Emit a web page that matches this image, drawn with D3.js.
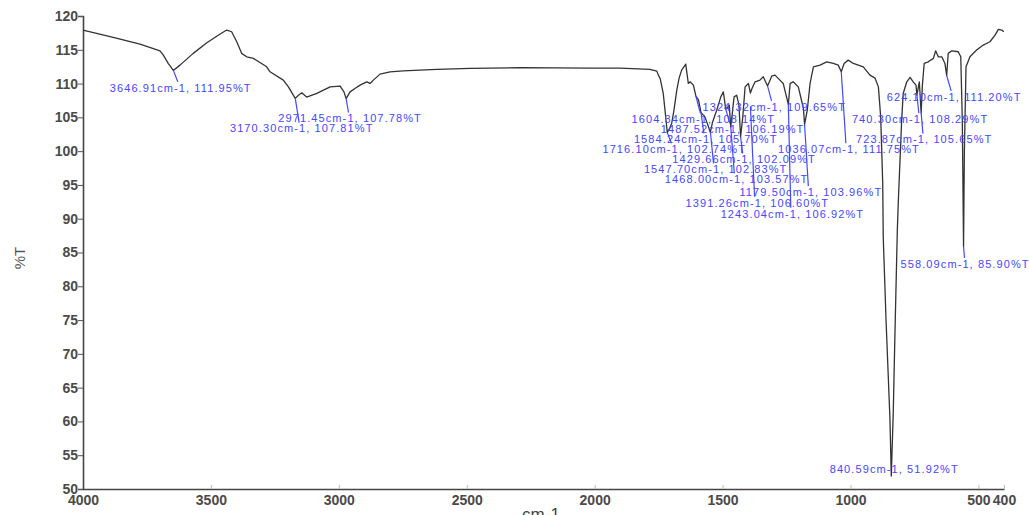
<html>
<head>
<style>
  body { margin: 0; background: #fff; }
  text { font-family: "Liberation Sans", Arial, sans-serif; }
</style>
</head>
<body>
<svg id="chart" width="1029" height="515"></svg>
<script src="https://cdn.jsdelivr.net/npm/d3@7"></script>
<script>
// spectrum (cm-1, %T)
let waveNumbers = [4000, 3882, 3777, 3699, 3686, 3667, 3646.91, 3621, 3569, 3516, 3464, 3438, 3419, 3399, 3380, 3360, 3334, 3282, 3269, 3217, 3197, 3178, 3170.30, 3158, 3145, 3126, 3086, 3034, 2995, 2980, 2971.45, 2956, 2937, 2917, 2891, 2878, 2865, 2839, 2800, 2749, 2683, 2617, 2487, 2292, 2018, 1901, 1784, 1757, 1751, 1744, 1732, 1721, 1716.10, 1707, 1699, 1690, 1679, 1670, 1660, 1644, 1634, 1627, 1614, 1604.34, 1594, 1584.24, 1569, 1547.70, 1539, 1523, 1507, 1497, 1487.52, 1474, 1468.00, 1455, 1445, 1436, 1429.66, 1421, 1412, 1399, 1391.26, 1385, 1373, 1354, 1341, 1324.32, 1308, 1295, 1276, 1263, 1243.04, 1236, 1224, 1204, 1184, 1179.50, 1169, 1158, 1145, 1119, 1093, 1067, 1048, 1036.07, 1025, 1009, 989, 950, 924, 904, 891, 882, 874, 872, 861, 846, 840.59, 833, 826, 817, 813, 800, 794, 780, 767, 755, 744, 740.30, 731, 723.87, 719, 712, 696, 676, 667, 657, 643, 631, 624.10, 618, 604, 579, 569, 563, 558.09, 555, 548.5, 533, 507, 481, 455, 435, 422, 409, 401]
let transmittance = [117.92, 116.84, 115.85, 114.85, 114.22, 112.99, 111.95, 112.73, 114.47, 116.04, 117.33, 117.92, 117.67, 116.19, 114.47, 113.96, 113.73, 112.48, 111.74, 110.51, 109.51, 108.28, 107.81, 108.28, 108.63, 108.0, 108.54, 109.51, 109.62, 108.77, 107.78, 108.77, 109.28, 109.77, 110.26, 110.02, 110.51, 111.40, 111.74, 111.89, 111.99, 112.10, 112.24, 112.36, 112.29, 112.29, 112.10, 111.84, 111.25, 110.76, 108.54, 104.58, 102.74, 103.39, 104.09, 106.06, 109.03, 110.81, 111.99, 112.88, 110.02, 110.26, 109.77, 108.14, 107.54, 105.70, 105.07, 102.83, 104.32, 106.06, 108.03, 108.77, 106.19, 106.80, 103.57, 108.03, 108.28, 106.80, 102.09, 105.07, 109.51, 110.02, 108.60, 109.28, 110.26, 110.51, 111.00, 109.65, 111.10, 111.25, 110.51, 110.02, 106.92, 110.02, 110.26, 109.51, 106.31, 103.96, 106.06, 110.02, 112.48, 112.73, 113.22, 112.98, 112.73, 111.75, 112.98, 113.47, 112.98, 112.48, 111.25, 110.80, 109.51, 105.07, 95.19, 87.27, 74.91, 60.57, 51.92, 61.12, 73.43, 88.26, 92.71, 104.58, 108.54, 110.26, 110.91, 110.26, 109.77, 108.29, 110.26, 105.65, 109.77, 112.98, 113.22, 113.73, 114.85, 113.96, 113.96, 112.98, 111.20, 114.47, 114.85, 114.71, 113.96, 104.58, 85.90, 99.64, 112.48, 113.96, 114.96, 115.70, 116.19, 117.18, 118.03, 117.92, 117.67]

// picked peaks and where their labels sit (label centre, in axis units)
let peakWn = [3646.91, 3170.30, 2971.45, 1716.10, 1604.34, 1584.24, 1547.70, 1487.52, 1468.00, 1429.66, 1391.26, 1324.32, 1243.04, 1179.50, 1036.07, 840.59, 740.30, 723.87, 624.10, 558.09]
let peakT = [111.95, 107.81, 107.78, 102.74, 108.14, 105.70, 102.83, 106.19, 103.57, 102.09, 106.60, 109.65, 106.92, 103.96, 111.75, 51.92, 108.29, 105.65, 111.20, 85.90]
let labelWn = [3618, 3145, 2956, 1689, 1575, 1566, 1527, 1461, 1445, 1416, 1364, 1298, 1227, 1155, 1006, 829, 728, 712, 595, 552]
let labelT = [109.37, 103.34, 104.83, 100.27, 104.72, 101.76, 97.31, 103.24, 95.83, 98.79, 92.37, 106.55, 90.74, 93.94, 100.27, 53.01, 104.72, 101.71, 108.03, 83.32]

let xTicks = [4000, 3500, 3000, 2500, 2000, 1500, 1000, 500, 400]
let yTicks = [50, 55, 60, 65, 70, 75, 80, 85, 90, 95, 100, 105, 110, 115, 120]

let svg = d3.select("#chart")

let x = d3.scaleLinear().domain([4000, 400]).range([83, 1004])
let y = d3.scaleLinear().domain([50, 120]).range([489, 16])

let spectrum = waveNumbers.map((w, i) => [w, transmittance[i]])
let peaks = peakWn.map((w, i) => ({ wn: w, t: peakT[i], lx: labelWn[i], ly: labelT[i] }))

// axes
let xAxis = d3.axisBottom(x).tickValues(xTicks).tickFormat(d3.format("d"))
  .tickSizeInner(-4).tickSizeOuter(0).tickPadding(6)
let yAxis = d3.axisLeft(y).tickValues(yTicks).tickSize(5).tickPadding(0)

let gx = svg.append("g").attr("transform", "translate(0,489)").call(xAxis)
let gy = svg.append("g").attr("transform", "translate(83,0)").call(yAxis)

gx.select(".domain").attr("stroke", "#444").attr("stroke-width", 1.6)
gy.select(".domain").attr("stroke", "#444").attr("stroke-width", 1.6)
gx.selectAll(".tick line").attr("stroke", "#bbb")
gy.selectAll(".tick line").attr("stroke", "#555")
svg.selectAll(".tick text")
  .attr("font-size", 14)
  .attr("font-family", "Liberation Sans, Arial, sans-serif")
  .attr("font-weight", "bold")
  .attr("fill", "#4a4a4a")

svg.append("text")
  .attr("transform", "translate(25,258) rotate(-90)")
  .attr("text-anchor", "middle")
  .attr("font-size", 15)
  .attr("fill", "#555")
  .text("%T")

svg.append("text")
  .attr("x", 541)
  .attr("y", 520)
  .attr("text-anchor", "middle")
  .attr("font-size", 17)
  .attr("fill", "#444")
  .text("cm-1")

// spectrum line
let line = d3.line().x(d => x(d[0])).y(d => y(d[1]))
svg.append("path")
  .datum(spectrum)
  .attr("fill", "none")
  .attr("stroke", "#333")
  .attr("stroke-width", 1.3)
  .attr("stroke-linejoin", "round")
  .attr("d", line)

// peak pick lines and labels
let blue = "#4646ff"
svg.selectAll(".pick")
  .data(peaks.filter(p => p.ly < p.t))
  .enter()
  .append("line")
  .attr("x1", d => x(d.wn))
  .attr("y1", d => y(d.t))
  .attr("x2", d => x(d.wn) + 0.6 * (x(d.lx) - x(d.wn)))
  .attr("y2", d => y(d.ly) - 6)
  .attr("stroke", blue)
  .attr("stroke-width", 1.2)

svg.selectAll(".plabel")
  .data(peaks)
  .enter()
  .append("text")
  .attr("x", d => x(d.lx))
  .attr("y", d => y(d.ly))
  .attr("dy", "0.35em")
  .attr("text-anchor", "middle")
  .attr("font-size", 11)
  .attr("letter-spacing", "1.1px")
  .attr("fill", blue)
  .text(d => d.wn.toFixed(2) + "cm-1, " + d.t.toFixed(2) + "%T")
</script>
</body>
</html>
